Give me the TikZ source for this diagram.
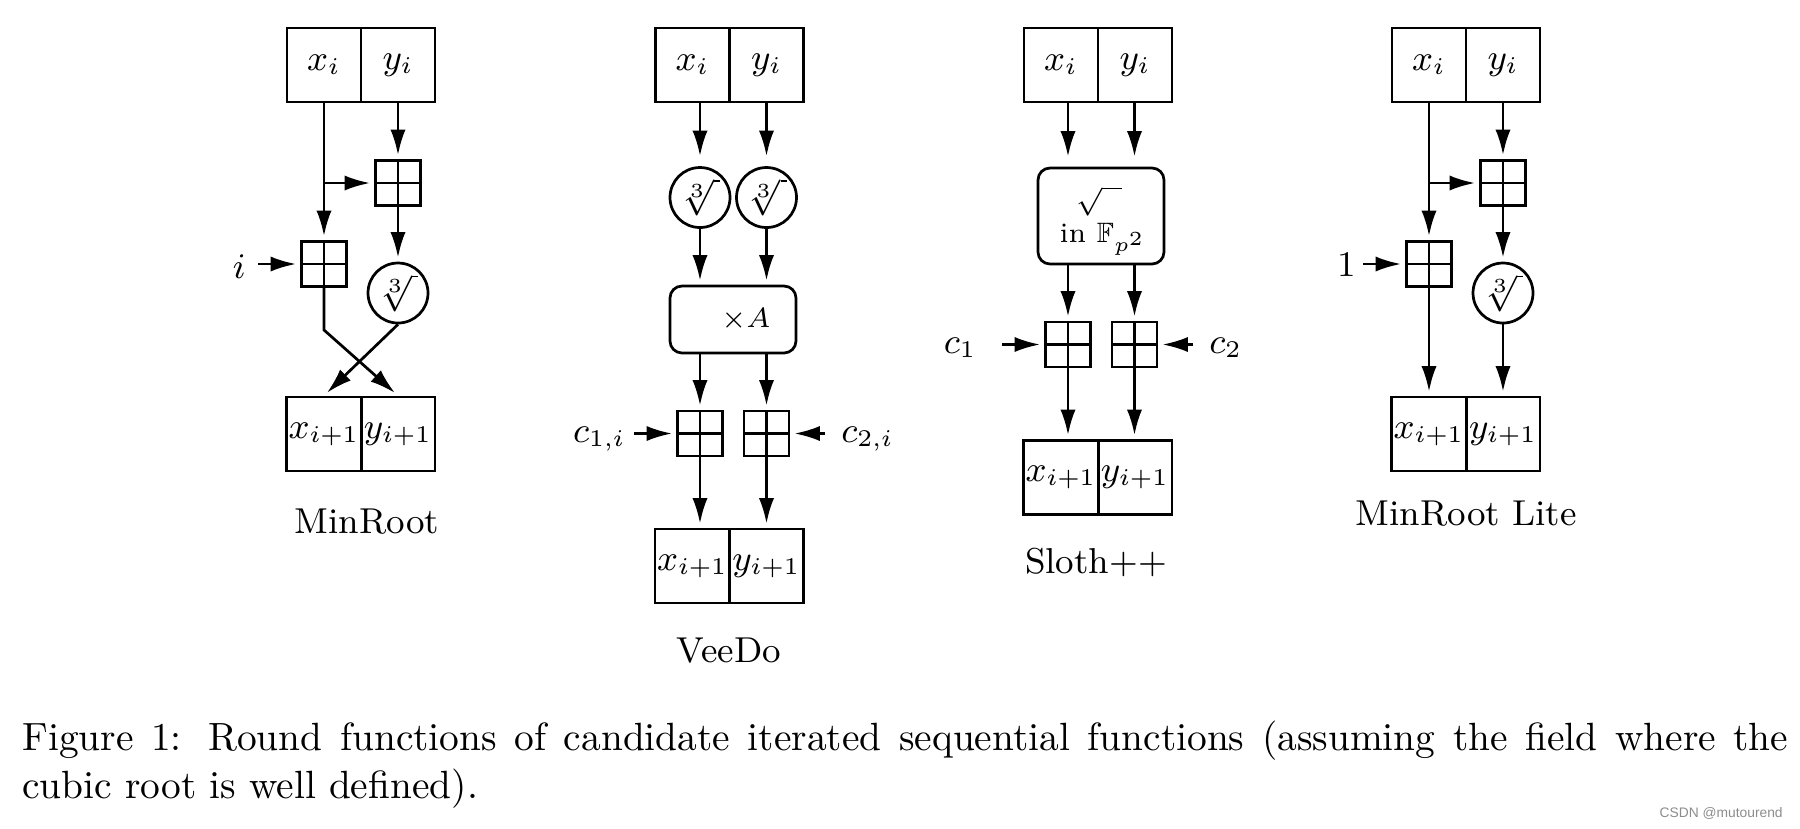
\documentclass[tikz,border=0pt]{standalone}
\usepackage{amssymb}
\usepackage{fontspec}
\newfontfamily\wmfont{Liberation Sans}
\usetikzlibrary{arrows.meta}
\begin{document}
\begin{tikzpicture}[x=0.25pt, y=-0.25pt, line width=0.68pt,
  every node/.style={font=\fontsize{9}{11}\selectfont},
  cell/.style={draw, minimum width=18.5pt, minimum height=18.5pt, inner sep=0.5pt},
  adder/.style={draw, minimum size=11.25pt, inner sep=0pt,
    path picture={\draw (path picture bounding box.north) -- (path picture bounding box.south)
      (path picture bounding box.west) -- (path picture bounding box.east);}},
  croot/.style={draw, circle, minimum size=15pt, inner sep=0pt},
  rbox/.style={draw, rounded corners=3pt, inner sep=0pt},
  lab/.style={inner sep=0pt},
  small/.style={font=\fontsize{7}{8}\selectfont},
  arr/.style={-{Latex[length=6.4pt,width=3.8pt]}, shorten >=1pt},
  far/.style={shorten >=2.5pt}
]
\useasboundingbox (0,0) rectangle (1800,828);

% ---------- MinRoot ----------
\node[cell] (xi1) at (324,65) {$x_i$};
\node[cell] (yi1) at (398,65) {$y_i$};
\node[adder] (addR1) at (398,183) {};
\node[adder] (addL1) at (324,264) {};
\node[lab, anchor=base east] (ilab1) at (247,278) {$i$};
\node[croot] (cr1) at (398,293) {$\sqrt[3]{\,}$};
\node[cell] (xo1) at (324,434) {$x_{i+1}$};
\node[cell] (yo1) at (398,434) {$y_{i+1}$};
\node[anchor=base] (name1) at (367,533) {MinRoot};
\coordinate (bend1) at (324,330);
\draw[arr] (yi1.south) -- (addR1.north);
\draw[arr] (xi1.south) -- (addL1.north);
\draw[arr] (xi1.south |- addR1.west) -- (addR1.west);
\draw[arr, shorten <=2.75pt] (ilab1.east |- addL1.west) -- (addL1.west);
\draw[arr] (addR1.south) -- (cr1.north);
\draw[arr] (addL1.south) -- (bend1) -- (yo1.north);
\draw[arr] (cr1.south) -- (xo1.north);

% ---------- VeeDo ----------
\node[cell] (xi2) at (692.5,65) {$x_i$};
\node[cell] (yi2) at (766.5,65) {$y_i$};
\node[croot] (cr2a) at (700,197.5) {$\sqrt[3]{\,}$};
\node[croot] (cr2b) at (766.5,197.5) {$\sqrt[3]{\,}$};
\node[rbox, small, minimum width=31.5pt, minimum height=16.75pt] (mul2) at (733,319.5) {\hspace{6.5pt}$\times A$};
\node[adder] (add2a) at (700,433.5) {};
\node[adder] (add2b) at (766.5,433.5) {};
\node[lab, anchor=base east] (c2l) at (627,442) {$c_{1,i}$};
\node[lab, anchor=base west] (c2r) at (840,442) {$c_{2,i}$};
\node[cell] (xo2) at (692.5,566) {$x_{i+1}$};
\node[cell] (yo2) at (766.5,566) {$y_{i+1}$};
\node[anchor=base] (name2) at (729,662) {VeeDo};
\draw[arr, far] (xi2.south -| cr2a) -- (cr2a.north);
\draw[arr, far] (yi2.south -| cr2b) -- (cr2b.north);
\draw[arr] (cr2a.south) -- (mul2.north -| cr2a);
\draw[arr] (cr2b.south) -- (mul2.north -| cr2b);
\draw[arr] (mul2.south -| add2a) -- (add2a.north);
\draw[arr] (mul2.south -| add2b) -- (add2b.north);
\draw[arr, shorten <=1.75pt] (c2l.east |- add2a.west) -- (add2a.west);
\draw[arr, shorten <=3.75pt] (c2r.west |- add2b.east) -- (add2b.east);
\draw[arr] (add2a.south) -- (xo2.north -| add2a);
\draw[arr] (add2b.south) -- (yo2.north -| add2b);

% ---------- Sloth++ ----------
\node[cell] (xi3) at (1061,65) {$x_i$};
\node[cell] (yi3) at (1135,65) {$y_i$};
\node[rbox, minimum width=31.5pt, minimum height=24pt] (sq3) at (1101,216) {};
\node[lab, small] (sq3a) at (1099,201) {$\sqrt{\hspace{5pt}}$};
\node[lab, small, anchor=base] (sq3b) at (1103,242) {in $\mathbb{F}_{p^2}$};
\node[adder] (add3a) at (1068,344.5) {};
\node[adder] (add3b) at (1134.5,344.5) {};
\node[lab, anchor=base east] (c3l) at (978,353) {$c_1$};
\node[lab, anchor=base west] (c3r) at (1208,353) {$c_2$};
\node[cell] (xo3) at (1061,477.5) {$x_{i+1}$};
\node[cell] (yo3) at (1135,477.5) {$y_{i+1}$};
\node[anchor=base] (name3) at (1096,573) {Sloth++};
\draw[arr, far] (xi3.south -| add3a) -- (sq3.north -| add3a);
\draw[arr, far] (yi3.south -| add3b) -- (sq3.north -| add3b);
\draw[arr] (sq3.south -| add3a) -- (add3a.north);
\draw[arr] (sq3.south -| add3b) -- (add3b.north);
\draw[arr, shorten <=6pt] (c3l.east |- add3a.west) -- (add3a.west);
\draw[arr, shorten <=3.75pt] (c3r.west |- add3b.east) -- (add3b.east);
\draw[arr] (add3a.south) -- (xo3.north -| add3a);
\draw[arr] (add3b.south) -- (yo3.north -| add3b);

% ---------- MinRoot Lite ----------
\node[cell] (xi4) at (1429,65) {$x_i$};
\node[cell] (yi4) at (1503,65) {$y_i$};
\node[adder] (addR4) at (1503,183) {};
\node[adder] (addL4) at (1429,264) {};
\node[lab, anchor=base east] (lab4) at (1357,276) {$1$};
\node[croot] (cr4) at (1503,293) {$\sqrt[3]{\,}$};
\node[cell] (xo4) at (1429,434) {$x_{i+1}$};
\node[cell] (yo4) at (1503,434) {$y_{i+1}$};
\node[anchor=base] (name4) at (1466,525) {MinRoot Lite};
\draw[arr] (yi4.south) -- (addR4.north);
\draw[arr] (xi4.south) -- (addL4.north);
\draw[arr] (xi4.south |- addR4.west) -- (addR4.west);
\draw[arr, shorten <=1.5pt] (lab4.east |- addL4.west) -- (addL4.west);
\draw[arr] (addR4.south) -- (cr4.north);
\draw[arr] (addL4.south) -- (xo4.north);
\draw[arr] (cr4.south) -- (yo4.north);

% ---------- caption ----------
\node[lab, anchor=base west, font=\fontsize{9.85}{12}\selectfont] (cap1) at (21,750)
  {\makebox[441.5pt][s]{Figure 1: Round functions of candidate iterated sequential functions (assuming the field where the}};
\node[lab, anchor=base west, font=\fontsize{9.85}{12}\selectfont] (cap2) at (21,798)
  {cubic root is well defined).};
\node[lab, anchor=base east, font=\wmfont\fontsize{3.45}{4}\selectfont, text=black!45] (wm) at (1784,817) {CSDN @mutourend};
\end{tikzpicture}
\end{document}
